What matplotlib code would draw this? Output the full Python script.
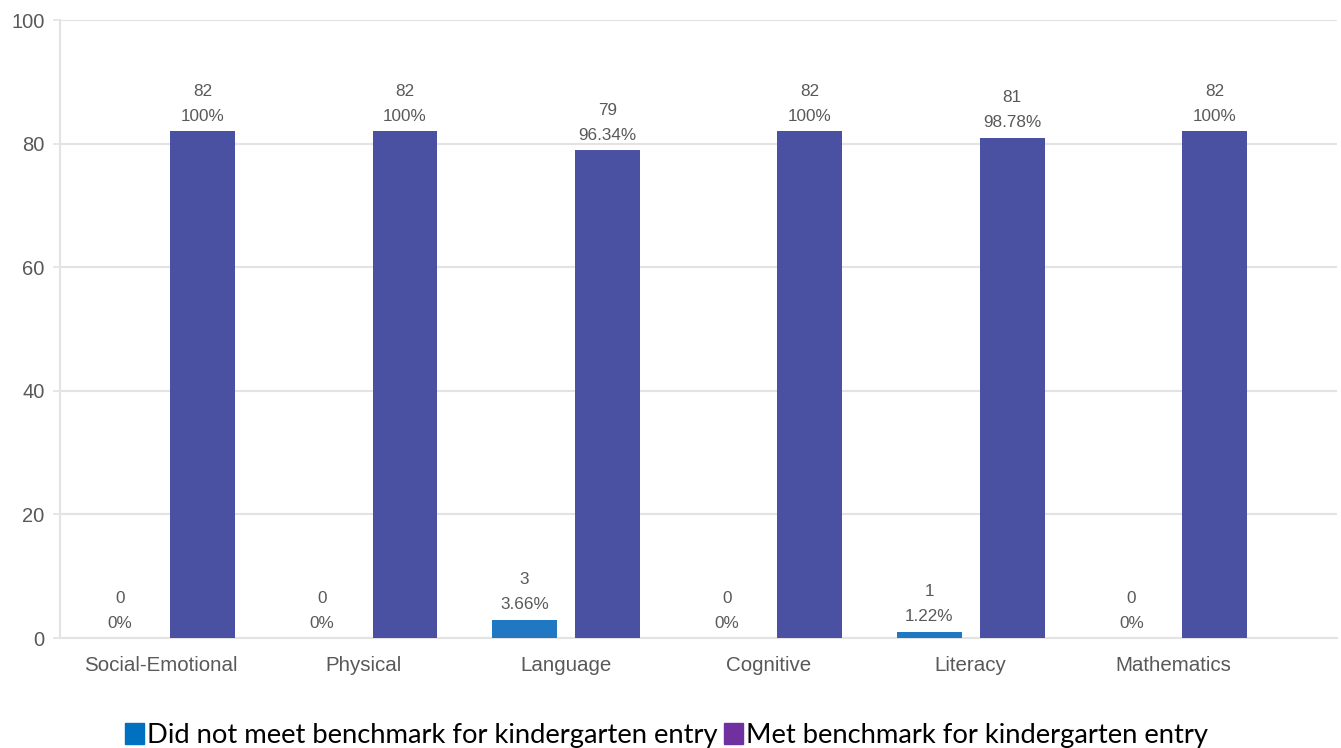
import matplotlib
matplotlib.use("Agg")
import matplotlib.pyplot as plt
from matplotlib.patches import Patch
import numpy as np

plt.rcParams["font.family"] = ["Liberation Sans", "DejaVu Sans"]

# domain scores for the kindergarten readiness cohort
domains = ["Social-Emotional", "Physical", "Language", "Cognitive", "Literacy", "Mathematics"]
did_not_meet = [0, 0, 3, 0, 1, 0]
met = [82, 82, 79, 82, 81, 82]
series_names = ["Did not meet benchmark for kindergarten entry",
                "Met benchmark for kindergarten entry"]
yticks = [0, 20, 40, 60, 80, 100]


def pct_label(n, total):
    p = 100.0 * n / total
    return f"{p:.2f}".rstrip("0").rstrip(".") + "%"


fig = plt.figure(figsize=(13.41, 7.48), dpi=100)
ax = fig.add_axes([0.0447, 0.147, 0.9523, 0.826])

x = np.arange(len(domains))
w = 0.32
off = 0.205
bars_a = ax.bar(x - off, did_not_meet, w, color="#1f78c1", zorder=3)
bars_b = ax.bar(x + off, met, w, color="#4a50a2", zorder=3)

label_color = "#595959"
for bars, vals, others in [(bars_a, did_not_meet, met), (bars_b, met, did_not_meet)]:
    for b, v, o in zip(bars, vals, others):
        cx = b.get_x() + b.get_width() / 2
        ax.annotate(pct_label(v, v + o), (cx, v), xytext=(0, 7.5), textcoords="offset points",
                    ha="center", va="baseline", fontsize=12.3, color=label_color)
        ax.annotate(str(v), (cx, v), xytext=(0, 25.5), textcoords="offset points",
                    ha="center", va="baseline", fontsize=12.3, color=label_color)

ax.set_xlim(-0.5, 5.81)
ax.set_ylim(0, 100)
ax.set_yticks(yticks)
ax.set_xticks(x)
ax.set_xticklabels(domains)
ax.tick_params(axis="x", length=0, pad=13, labelsize=14.8, labelcolor=label_color)
ax.tick_params(axis="y", length=5, width=1.2, color="#e3e3e3", pad=6, labelsize=14.5, labelcolor=label_color)
ax.grid(axis="y", color="#e3e3e3", linewidth=1.5, zorder=0)
for s in ["top", "right"]:
    ax.spines[s].set_visible(False)
ax.spines["left"].set_color("#e3e3e3")
ax.spines["left"].set_linewidth(1.5)
ax.spines["bottom"].set_color("#e3e3e3")
ax.spines["bottom"].set_linewidth(1.5)

handles = [Patch(color="#0070c0"), Patch(color="#7030a0")]
fig.legend(handles, series_names, loc="lower center", bbox_to_anchor=(0.497, -0.033), ncol=2,
           frameon=False, prop={"family": "Lato", "size": 19.7},
           handlelength=0.7, handleheight=0.75, handletextpad=0.12, columnspacing=0.2)

fig.savefig("out.png", dpi=100)
